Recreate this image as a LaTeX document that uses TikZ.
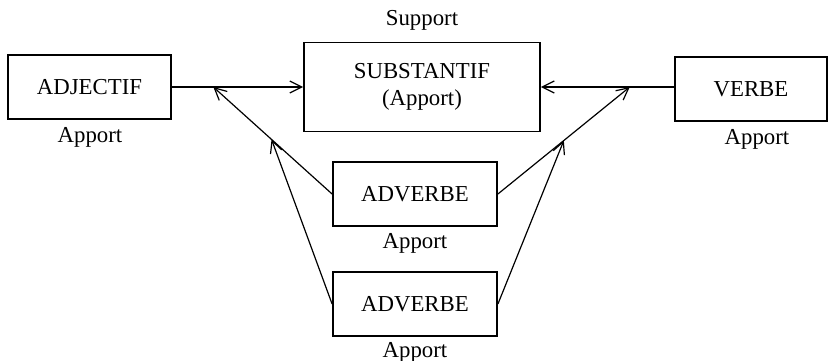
\documentclass[tikz,border=0pt]{standalone}
\usepackage{fontspec}
\setmainfont{Liberation Serif}
\usetikzlibrary{arrows.meta,calc}
\begin{document}
\begin{tikzpicture}[x=0.5pt,y=-0.5pt,
    box/.style={rectangle,draw,line width=0.9pt,inner sep=0pt},
    lab/.style={inner sep=0pt},
    fl/.style={line width=0.6pt,-{Straight Barb[length=6pt,width=6pt]}},
    font=\fontsize{11.4}{13.6}\selectfont]
    \useasboundingbox (0,0) rectangle (828,360);
    \node[box,minimum width=81.5pt,minimum height=32pt] (adj) at (89.5,87) {ADJECTIF};
    \node[box,minimum width=118pt,minimum height=44.5pt,align=center] (sub) at (422,87) {SUBSTANTIF\\(Apport)};
    \node[box,minimum width=76pt,minimum height=32pt] (verbe) at (751,89) {VERBE};
    \node[box,minimum width=82pt,minimum height=32pt] (adva) at (415,194) {ADVERBE};
    \node[box,minimum width=82pt,minimum height=32pt] (advb) at (415,304) {ADVERBE};
    % etiquettes
    \node[lab] (sup) at (422,20) {Support};
    \node[lab] (ap1) at (90,137) {Apport};
    \node[lab] (ap2) at (757,139) {Apport};
    \node[lab] (ap3) at (415,243) {Apport};
    \node[lab] (ap4) at (415,352) {Apport};
    % fleches
    \coordinate (jl) at ($(adj.east)!0.316!(sub.west)$);
    \coordinate (jr) at ($(verbe.west |- sub.east)!0.333!(sub.east)$);
    \coordinate (kl) at ($(adva.west)!0.51!(jl)$);
    \coordinate (kr) at ($(adva.east)!0.5!(jr)$);
    \draw[fl] (adj.east) -- (sub.west);
    \draw[fl] (verbe.west |- sub.east) -- (sub.east);
    \draw[fl] (adva.west) -- (jl);
    \draw[fl] (adva.east) -- (jr);
    \draw[fl] (advb.west) -- (kl);
    \draw[fl] (advb.east) -- (kr);
\end{tikzpicture}
\end{document}
